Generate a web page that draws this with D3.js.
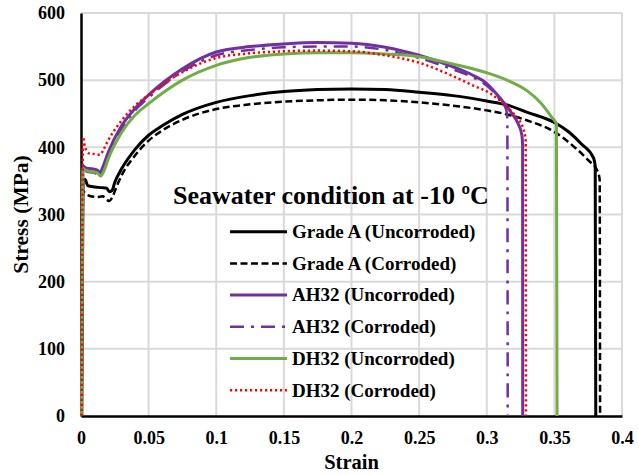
<html>
<head>
<meta charset="utf-8">
<title>Stress-strain, seawater -10 C</title>
<script src="https://d3js.org/d3.v7.min.js"></script>
<style>
  body { margin: 0; background: #fff; }
  text { font-family: "Liberation Serif", "Times New Roman", serif; font-weight: bold; }
</style>
</head>
<body>
<div id="chart"></div>
<script>
// [strain, stress MPa]
const gradeAUnc = [[0.0005,0],[0.0015,350],[0.003,352],[0.005,343],[0.01,341],[0.015,340],[0.019,339],[0.021,334],[0.023,336],[0.025,348],[0.03,368],[0.04,397],[0.05,418],[0.06,432],[0.075,449],[0.1,467],[0.125,477],[0.15,483],[0.175,486],[0.2,487],[0.225,486],[0.25,482],[0.275,477],[0.3,469],[0.315,463],[0.33,452],[0.35,437],[0.36,424],[0.37,405],[0.379,384],[0.3802,372],[0.3806,0]];
const gradeACor = [[0.0005,0],[0.0015,335],[0.003,332],[0.006,328],[0.012,326],[0.016,327],[0.019,322],[0.021,320],[0.023,325],[0.026,340],[0.03,358],[0.04,388],[0.05,410],[0.06,425],[0.075,441],[0.1,457],[0.125,464],[0.15,468],[0.175,470],[0.2,471],[0.225,470],[0.25,467],[0.275,462],[0.3,455],[0.315,449],[0.33,440],[0.35,423],[0.365,400],[0.375,381],[0.382,364],[0.3835,352],[0.3838,0]];
const ah32Unc = [[0.0005,0],[0.0015,372],[0.004,369],[0.008,368],[0.012,366],[0.014,362],[0.016,370],[0.02,392],[0.03,432],[0.04,458],[0.05,478],[0.075,517],[0.1,542],[0.125,550],[0.15,554],[0.175,556],[0.2,555],[0.225,549],[0.25,537],[0.275,520],[0.29,507],[0.3,495],[0.31,473],[0.318,452],[0.323,436],[0.326,418],[0.3265,402],[0.3266,0]];
const ah32Cor = [[0.0005,0],[0.0015,368],[0.004,364],[0.01,362],[0.013,357],[0.016,366],[0.02,388],[0.03,428],[0.04,455],[0.05,474],[0.075,513],[0.1,537],[0.125,545],[0.15,549],[0.175,550],[0.2,550],[0.225,545],[0.25,533],[0.275,516],[0.29,504],[0.3,492],[0.31,470],[0.3145,455],[0.3152,442],[0.3155,0]];
const dh32Unc = [[0.0005,0],[0.0015,368],[0.004,365],[0.008,364],[0.012,362],[0.0145,357],[0.017,365],[0.02,382],[0.03,422],[0.04,448],[0.05,465],[0.075,500],[0.1,522],[0.125,534],[0.15,539],[0.175,541],[0.2,541],[0.225,539],[0.25,535],[0.275,524],[0.3,511],[0.315,500],[0.33,484],[0.34,466],[0.348,445],[0.3515,435],[0.352,0]];
const dh32Cor = [[0.0005,0],[0.0015,415],[0.003,400],[0.006,391],[0.01,390],[0.014,389],[0.017,398],[0.02,410],[0.03,440],[0.04,462],[0.05,478],[0.075,512],[0.1,533],[0.125,540],[0.15,543],[0.175,544],[0.2,543],[0.225,537],[0.25,526],[0.275,506],[0.29,492],[0.302,481],[0.315,460],[0.322,445],[0.327,428],[0.3288,410],[0.329,0]];

const seriesNames = ["Grade A (Uncorroded)", "Grade A (Corroded)", "AH32 (Uncorroded)", "AH32 (Corroded)", "DH32 (Uncorroded)", "DH32 (Corroded)"];
const xTicks = [0, 0.05, 0.1, 0.15, 0.2, 0.25, 0.3, 0.35, 0.4];
const yTicks = [0, 100, 200, 300, 400, 500, 600];

const styles = [
  {color: "#000000", width: 3, dash: null},
  {color: "#000000", width: 2.5, dash: "7,3.5"},
  {color: "#7030a0", width: 3, dash: null},
  {color: "#7030a0", width: 2.5, dash: "14,7,3,7"},
  {color: "#70ad47", width: 3, dash: null},
  {color: "#ff0000", width: 2.5, dash: "2.2,2.8"}
];
const allData = [gradeAUnc, gradeACor, ah32Unc, ah32Cor, dh32Unc, dh32Cor];

const width = 639, height = 475;
const margin = {top: 13, right: 17, bottom: 59, left: 81};
const serif = "'Liberation Serif', 'Times New Roman', serif";

const svg = d3.select("#chart").append("svg")
  .attr("width", width).attr("height", height);

const x = d3.scaleLinear().domain([0, 0.4]).range([margin.left, width - margin.right]);
const y = d3.scaleLinear().domain([0, 600]).range([height - margin.bottom, margin.top]);

// grid
svg.append("g").selectAll("line").data(xTicks.slice(1)).enter().append("line")
  .attr("x1", d => x(d)).attr("x2", d => x(d))
  .attr("y1", y(0)).attr("y2", y(600))
  .attr("stroke", "#d9d9d9").attr("stroke-width", 2);
svg.append("g").selectAll("line").data(yTicks.slice(1)).enter().append("line")
  .attr("x1", x(0)).attr("x2", x(0.4))
  .attr("y1", d => y(d)).attr("y2", d => y(d))
  .attr("stroke", "#d9d9d9").attr("stroke-width", 2);

// axes
const xAxis = svg.append("g").attr("transform", `translate(0,${y(0)})`)
  .call(d3.axisBottom(x).tickValues(xTicks).tickSize(0).tickPadding(15).tickFormat(d3.format("")));
const yAxis = svg.append("g").attr("transform", `translate(${x(0)},0)`)
  .call(d3.axisLeft(y).tickValues(yTicks).tickSize(0).tickPadding(16));
[xAxis, yAxis].forEach(a => {
  a.select(".domain").attr("stroke", "#000").attr("stroke-width", 2.5);
  a.selectAll("text").attr("font-size", 18).attr("fill", "#000")
    .attr("font-family", serif).attr("font-weight", "bold");
});

svg.append("text").attr("x", x(0.2)).attr("y", 469).attr("text-anchor", "middle")
  .attr("font-size", 20.5).text("Strain");
svg.append("text").attr("transform", `translate(28,${y(300)}) rotate(-90)`)
  .attr("text-anchor", "middle").attr("font-size", 21.5).text("Stress (MPa)");

// curves
const line = d3.line().x(d => x(d[0])).y(d => y(d[1])).curve(d3.curveMonotoneX);
const order = [1, 0, 3, 2, 4, 5];
order.forEach(i => {
  svg.append("path").datum(allData[i])
    .attr("d", line)
    .attr("fill", "none")
    .attr("stroke", styles[i].color)
    .attr("stroke-width", styles[i].width)
    .attr("stroke-dasharray", styles[i].dash)
    .attr("stroke-linejoin", "round");
});

// legend
svg.append("text").attr("x", 173).attr("y", 204).attr("font-size", 26)
  .text("Seawater condition at -10 \u00baC");
const leg = svg.append("g").selectAll("g").data(seriesNames).enter().append("g")
  .attr("transform", (d, i) => `translate(230,${231.7 + i * 31.7})`);
leg.append("line").attr("x1", 0).attr("x2", 57).attr("y1", 0).attr("y2", 0)
  .attr("stroke", (d, i) => styles[i].color)
  .attr("stroke-width", (d, i) => styles[i].width)
  .attr("stroke-dasharray", (d, i) => styles[i].dash);
leg.append("text").attr("x", 62).attr("y", 6.3).attr("font-size", 19).text(d => d);
</script>
</body>
</html>
